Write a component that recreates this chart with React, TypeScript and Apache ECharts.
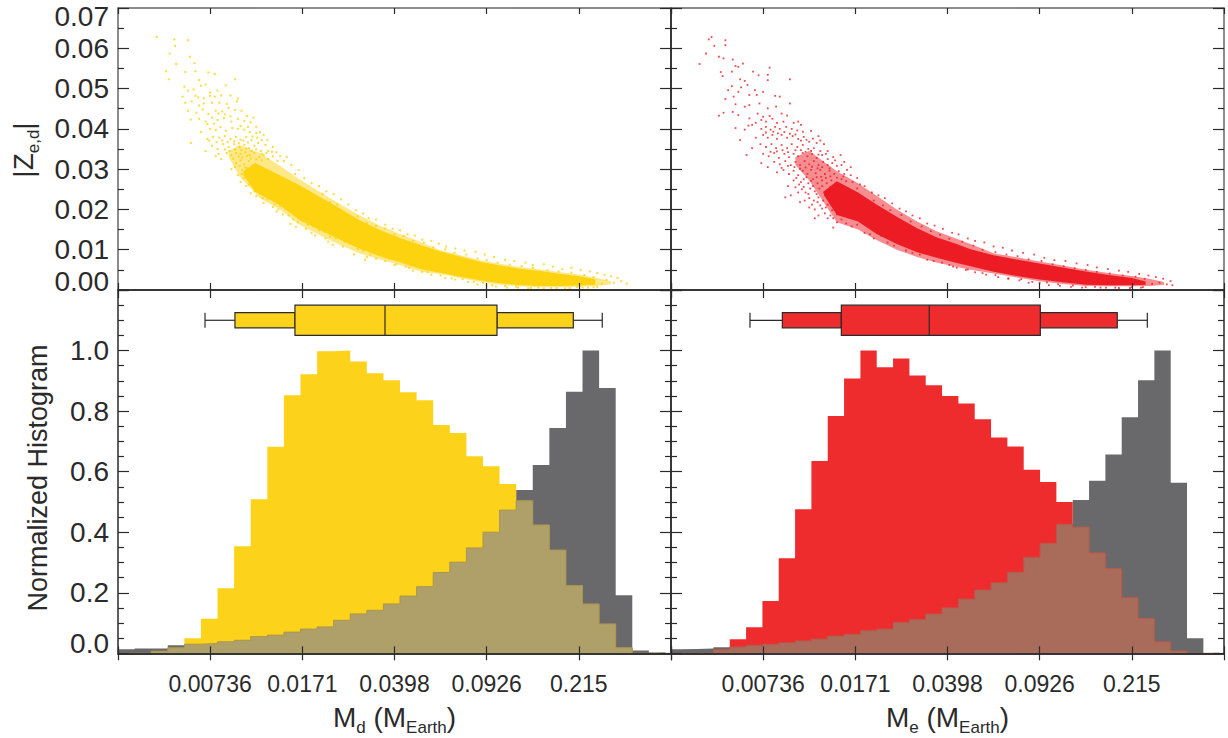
import React, { useEffect, useRef } from "react";
import * as echarts from "echarts";

// x positions are expressed on the axis' uniform tick scale: 1 = 0.00736, 2 = 0.0171, ...
const xTickLabels = ["", "0.00736", "0.0171", "0.0398", "0.0926", "0.215", ""];

const yellowBinWidth = 0.18;
const yellowBinStart = 0;
const yellowHist = [0, 0, 0.007, 0.018, 0.05, 0.114, 0.215, 0.354, 0.509, 0.682, 0.852, 0.922, 0.998, 1.0, 0.964, 0.925, 0.902, 0.862, 0.836, 0.754, 0.728, 0.651, 0.618, 0.559, 0.504, 0.424, 0.341, 0.224, 0.163, 0.097, 0.018, 0, 0];
const yellowGrey = [0.013, 0.016, 0.016, 0.027, 0.03, 0.032, 0.038, 0.043, 0.055, 0.06, 0.07, 0.08, 0.087, 0.109, 0.13, 0.142, 0.163, 0.189, 0.22, 0.267, 0.301, 0.348, 0.4, 0.473, 0.539, 0.622, 0.744, 0.864, 1.0, 0.876, 0.192, 0.009, 0.003];

const redBinWidth = 0.1772;
const redBinStart = -0.0714;
const redHist = [0, 0, 0, 0.012, 0.046, 0.086, 0.173, 0.314, 0.476, 0.635, 0.784, 0.908, 1.0, 0.945, 0.974, 0.918, 0.885, 0.85, 0.825, 0.773, 0.713, 0.683, 0.606, 0.566, 0.5, 0.417, 0.332, 0.28, 0.184, 0.115, 0.038, 0.008, 0, 0];
const redGrey = [0.013, 0.014, 0.016, 0.02, 0.021, 0.027, 0.03, 0.035, 0.041, 0.047, 0.057, 0.063, 0.075, 0.08, 0.102, 0.112, 0.13, 0.15, 0.179, 0.209, 0.233, 0.268, 0.317, 0.363, 0.426, 0.506, 0.57, 0.657, 0.78, 0.902, 1.0, 0.563, 0.05, 0];

// whiskerLow, boxOuterLow, q1, median, q3, boxOuterHigh, whiskerHigh
const yellowBox = [0.944, 1.269, 1.92, 2.897, 4.112, 4.94, 5.254];
const redBox = [0.857, 1.208, 1.848, 2.802, 4.007, 4.842, 5.168];

// dense core of each cloud: position, upper |Z|, lower |Z|
const yellowCore = [
  [1.36, 0.0295, 0.0285], [1.49, 0.0315, 0.0244], [1.76, 0.0284, 0.021], [1.97, 0.026, 0.0174], [2.19, 0.0231, 0.0149], [2.41, 0.0202, 0.0125],
  [2.63, 0.0172, 0.0102], [2.84, 0.0149, 0.0084], [3.06, 0.0129, 0.0069], [3.28, 0.0112, 0.0052], [3.49, 0.0096, 0.0043],
  [3.71, 0.0083, 0.0033], [3.93, 0.007, 0.0024], [4.14, 0.0061, 0.0017], [4.36, 0.0053, 0.0012], [4.58, 0.0047, 0.001],
  [4.8, 0.004, 0.001], [5.01, 0.0034, 0.0011], [5.18, 0.0026, 0.0013],
];
const yellowHalo = [
  [1.2, 0.0345, 0.033], [1.32, 0.036, 0.0282], [1.54, 0.034, 0.0228], [1.76, 0.0308, 0.02], [1.97, 0.0275, 0.0162], [2.19, 0.0243, 0.0136],
  [2.41, 0.0213, 0.0112], [2.63, 0.0184, 0.009], [2.84, 0.016, 0.0076], [3.06, 0.0139, 0.0062], [3.28, 0.012, 0.0046], [3.49, 0.0099, 0.004],
  [3.71, 0.0087, 0.003], [3.93, 0.0074, 0.002], [4.14, 0.0065, 0.0013], [4.36, 0.0057, 0.0009], [4.58, 0.0051, 0.0007], [4.8, 0.0044, 0.0007],
  [5.01, 0.0038, 0.0008], [5.2, 0.003, 0.001], [5.35, 0.0022, 0.0014],
];
const redCore = [
  [1.66, 0.0245, 0.0235], [1.8, 0.027, 0.0186], [2.03, 0.0242, 0.017], [2.23, 0.0212, 0.0139], [2.45, 0.0182, 0.0114], [2.67, 0.0153, 0.0094],
  [2.88, 0.0131, 0.008], [3.1, 0.0114, 0.0067], [3.25, 0.0101, 0.0059], [3.5, 0.0086, 0.0045], [3.75, 0.0076, 0.0035],
  [4.0, 0.0066, 0.0026], [4.25, 0.0056, 0.0019], [4.5, 0.0046, 0.0013], [4.75, 0.0037, 0.0012], [5.0, 0.003, 0.0012], [5.15, 0.0021, 0.0013],
];
const redHalo = [
  [1.35, 0.033, 0.031], [1.5, 0.0345, 0.0272], [1.8, 0.0295, 0.0168], [2.03, 0.0265, 0.015], [2.23, 0.0234, 0.0124], [2.45, 0.02, 0.01],
  [2.67, 0.017, 0.0082], [2.88, 0.0146, 0.0068], [3.1, 0.0127, 0.0057], [3.25, 0.0114, 0.005], [3.5, 0.0091, 0.0041], [3.75, 0.0081, 0.0031],
  [4.0, 0.0071, 0.0022], [4.25, 0.0061, 0.0015], [4.5, 0.005, 0.001], [4.75, 0.0042, 0.0009], [5.0, 0.0035, 0.0009], [5.2, 0.0027, 0.001], [5.35, 0.002, 0.0013],
];

// individual points read around the cores
const yellowPoints = [
  [0.42, 0.0628], [0.61, 0.0622], [0.62, 0.0606], [0.76, 0.062], [0.56, 0.0587], [0.78, 0.0579], [0.52, 0.0543], [0.63, 0.0561], [0.83, 0.0563], [0.55, 0.0523], [0.73, 0.0541], [0.84, 0.0543], [1.05, 0.0536], [1.27, 0.0523], [0.88, 0.0521], [0.98, 0.054], [0.72, 0.0505], [0.76, 0.0495], [0.82, 0.0498], [0.9, 0.0507], [0.95, 0.051], [1.0, 0.049], [1.08, 0.0495], [1.17, 0.0508], [0.7, 0.048], [0.84, 0.0482], [0.87, 0.0478], [0.93, 0.0476], [1.0, 0.0482], [1.05, 0.048], [1.12, 0.0483], [1.22, 0.0483], [1.3, 0.0475], [0.73, 0.0465], [0.8, 0.0468], [0.88, 0.0458], [0.93, 0.0463], [1.02, 0.0465], [1.1, 0.0465], [1.18, 0.0462], [1.29, 0.0468], [0.76, 0.0445], [0.85, 0.044], [0.92, 0.0448], [0.98, 0.0437], [1.06, 0.0445], [1.13, 0.0443], [1.2, 0.0452], [1.27, 0.0447], [1.34, 0.0445], [1.4, 0.0432],
  [0.79, 0.0423], [0.88, 0.0425], [0.95, 0.0418], [1.02, 0.0428], [1.08, 0.0422], [1.15, 0.0427], [1.22, 0.0431], [1.3, 0.0425], [1.37, 0.042], [1.44, 0.0416], [1.5, 0.0405], [0.9, 0.0392], [1.0, 0.04], [1.06, 0.0397], [1.11, 0.0405], [1.17, 0.0395], [1.24, 0.0402], [1.3, 0.04], [1.37, 0.0398], [1.43, 0.0392], [1.5, 0.039], [1.58, 0.0385], [0.79, 0.0365], [0.97, 0.0375], [1.03, 0.038], [1.1, 0.0378], [1.16, 0.0382], [1.22, 0.0375], [1.28, 0.038], [1.33, 0.0373], [1.39, 0.038], [1.45, 0.0372], [1.52, 0.0365], [1.6, 0.036], [1.68, 0.0355], [0.95, 0.0345], [1.02, 0.0358], [1.08, 0.035], [1.14, 0.0362], [1.2, 0.0355], [1.26, 0.0362], [1.32, 0.0355], [1.37, 0.036], [1.42, 0.0352], [1.48, 0.0358], [1.55, 0.0345], [1.63, 0.0345], [1.72, 0.0342], [1.83, 0.033],
  [1.06, 0.0332], [1.12, 0.0325], [1.18, 0.034], [1.23, 0.0335], [1.28, 0.034], [1.33, 0.0338], [1.38, 0.0342], [1.43, 0.0335], [1.48, 0.034], [1.53, 0.033], [1.58, 0.0335], [1.63, 0.0325], [1.68, 0.0332], [1.73, 0.032], [1.8, 0.032], [1.88, 0.031], [1.96, 0.0298], [1.23, 0.03], [1.28, 0.0315], [1.33, 0.0322], [1.37, 0.0312], [1.42, 0.032], [1.46, 0.031], [1.3, 0.0285], [1.35, 0.0298], [1.4, 0.0302], [1.45, 0.0292], [1.41, 0.0278], [1.46, 0.0272], [1.33, 0.0268], [1.39, 0.0258], [1.48, 0.0245], [1.52, 0.0262], [1.44, 0.024], [1.55, 0.0238], [1.6, 0.0245], [1.62, 0.0225], [1.66, 0.0235], [1.7, 0.0212], [1.76, 0.0208], [1.72, 0.0195], [1.82, 0.0202], [1.85, 0.0185], [1.9, 0.0175], [1.78, 0.0225], [1.95, 0.0168], [2.0, 0.0172], [2.06, 0.0162], [2.12, 0.0158], [2.1, 0.0142], [2.18, 0.0148], [2.24, 0.0145], [2.3, 0.0132], [2.36, 0.0128], [2.28, 0.012], [2.46, 0.012], [2.52, 0.0115], [2.6, 0.0102], [2.66, 0.0098], [2.74, 0.0088], [2.8, 0.0078], [2.7, 0.0082], [2.9, 0.0072], [2.95, 0.0078], [3.0, 0.0062], [3.12, 0.0058], [3.2, 0.0048], [3.3, 0.0045], [3.4, 0.0038], [3.55, 0.003], [3.66, 0.0026], [3.8, 0.002], [3.9, 0.0014], [4.0, 0.0011], [4.1, 0.0009], [4.22, 0.0006], [4.32, 0.0008], [4.45, 0.0004], [4.56, 0.0006], [4.7, 0.0005], [4.85, 0.0004], [4.98, 0.0007], [5.1, 0.0006], [5.2, 0.0008],
  [1.92, 0.0288], [2.02, 0.0278], [2.1, 0.0265], [2.18, 0.0258], [2.26, 0.0245], [2.34, 0.0238], [2.42, 0.0225], [2.5, 0.0212], [2.58, 0.0198], [2.66, 0.019], [2.72, 0.0178], [2.8, 0.0175], [2.9, 0.0162], [2.98, 0.0152], [3.06, 0.0148], [3.14, 0.0138], [3.22, 0.0135], [3.3, 0.0125], [3.4, 0.0122], [3.48, 0.0115], [3.56, 0.0108], [3.66, 0.0103], [3.76, 0.0098], [3.88, 0.0095], [3.98, 0.0088], [4.08, 0.0082], [4.2, 0.0075], [4.3, 0.0072], [4.42, 0.0068], [4.5, 0.0062], [4.62, 0.0064], [4.72, 0.0058], [4.82, 0.0052], [4.92, 0.0055], [5.02, 0.005], [5.12, 0.0046], [5.2, 0.0042], [5.28, 0.0038], [5.35, 0.0034], [5.42, 0.003], [5.3, 0.0025], [5.38, 0.0018], [5.25, 0.0016], [5.46, 0.0022], [5.52, 0.0016],
  [0.97, 0.0412], [1.04, 0.0413], [1.09, 0.0438], [1.16, 0.0436], [1.23, 0.0418], [1.33, 0.0407], [1.41, 0.0405], [1.47, 0.0428], [1.54, 0.0392], [0.99, 0.0371], [1.07, 0.0367], [1.13, 0.0371], [1.19, 0.0368], [1.26, 0.0369], [1.31, 0.0364], [1.36, 0.0371], [1.41, 0.0366], [1.46, 0.0381], [1.51, 0.0378], [1.56, 0.0372], [1.62, 0.0372], [1.09, 0.0338], [1.16, 0.0349], [1.21, 0.0345], [1.27, 0.0349], [1.34, 0.0347], [1.39, 0.0351], [1.45, 0.0345], [1.5, 0.0349], [1.56, 0.0338], [1.61, 0.034], [1.67, 0.0343], [1.76, 0.0332], [1.25, 0.0326], [1.31, 0.0331], [1.35, 0.0329], [1.4, 0.0333], [1.44, 0.0326], [1.5, 0.0324], [1.56, 0.0322], [1.27, 0.0306], [1.32, 0.0308], [1.38, 0.0304], [1.43, 0.0302], [1.34, 0.0288], [1.36, 0.0277], [1.42, 0.0262], [1.47, 0.0261], [1.5, 0.0233], [1.57, 0.0228], [1.58, 0.0216], [1.68, 0.0206], [1.74, 0.02], [1.79, 0.0188], [1.87, 0.0164], [1.93, 0.0157], [2.04, 0.0152], [2.14, 0.0135], [2.25, 0.0128], [2.33, 0.0112], [2.44, 0.0108], [2.56, 0.0088], [2.68, 0.0075],
  [2.12, 0.0236], [2.22, 0.0239], [2.3, 0.0218], [2.38, 0.0212], [2.5, 0.0186], [2.6, 0.0183], [2.7, 0.0166], [2.8, 0.0159], [2.9, 0.0153], [3.0, 0.0138], [3.1, 0.0134], [3.2, 0.0122], [3.32, 0.0118], [3.42, 0.0106], [3.55, 0.0101], [3.65, 0.0092], [3.78, 0.0088], [3.9, 0.0078], [4.0, 0.0074], [4.12, 0.0068], [4.25, 0.0063], [4.38, 0.0059], [4.5, 0.0055], [4.66, 0.0049], [4.78, 0.0046], [4.92, 0.0043], [5.06, 0.0037], [5.16, 0.0032],
  [3.02, 0.0064], [3.16, 0.0055], [3.36, 0.0044], [3.5, 0.0036], [3.62, 0.0029], [3.74, 0.0027], [3.86, 0.002], [3.96, 0.0018], [4.06, 0.0012], [4.2, 0.001], [4.34, 0.0006], [4.48, 0.0005], [4.62, 0.0004], [4.76, 0.0005], [4.9, 0.0005], [5.04, 0.0006], [5.16, 0.0007],
];
const redPoints = [
  [0.44, 0.0628], [0.41, 0.0622], [0.59, 0.062], [0.59, 0.0608], [0.38, 0.0587], [0.47, 0.0606], [0.52, 0.0579], [0.57, 0.0575], [0.31, 0.0561], [0.78, 0.0562], [0.67, 0.0572], [0.7, 0.0556], [0.73, 0.0554], [0.54, 0.0541], [0.56, 0.0531], [0.66, 0.0542], [0.89, 0.0542], [0.95, 0.0533], [1.05, 0.0534], [1.07, 0.0552], [1.29, 0.0523], [0.75, 0.0523], [0.8, 0.0519], [1.05, 0.0521], [0.66, 0.0506], [0.62, 0.0496], [0.76, 0.0503], [0.83, 0.0509], [0.91, 0.0496], [1.0, 0.0492], [0.68, 0.048], [0.73, 0.0492], [0.85, 0.0484], [0.93, 0.0484], [1.13, 0.0482], [1.18, 0.048], [1.29, 0.0463], [0.59, 0.0474], [0.7, 0.0461], [0.8, 0.0455], [0.85, 0.0459], [0.96, 0.0463], [1.05, 0.0451], [1.14, 0.0455], [0.67, 0.0442], [0.52, 0.0433], [0.57, 0.044], [0.73, 0.0434], [0.85, 0.0426], [0.94, 0.0438], [1.0, 0.043], [1.07, 0.0432], [1.2, 0.0438], [1.26, 0.0433], [1.38, 0.0418], [1.41, 0.041], [0.92, 0.0415], [0.98, 0.0422], [1.03, 0.0418], [1.1, 0.0425], [1.15, 0.0415], [1.22, 0.0418], [1.33, 0.0415], [0.7, 0.0402], [0.8, 0.0398], [0.84, 0.0408], [0.88, 0.041], [0.98, 0.04], [1.03, 0.0405], [1.08, 0.0398], [1.13, 0.0405], [1.18, 0.04], [1.25, 0.0405], [1.31, 0.04], [1.37, 0.0396], [1.43, 0.0393], [1.52, 0.0395], [1.6, 0.0382],
  [0.75, 0.0372], [0.92, 0.0378], [1.0, 0.0385], [1.05, 0.0378], [1.1, 0.0385], [1.15, 0.0375], [1.2, 0.0385], [1.26, 0.0378], [1.32, 0.0382], [1.38, 0.0375], [1.44, 0.038], [1.5, 0.0368], [1.58, 0.0365], [1.66, 0.0362], [0.88, 0.0352], [0.97, 0.0362], [1.03, 0.0355], [1.09, 0.0362], [1.14, 0.0352], [1.2, 0.036], [1.26, 0.0352], [1.31, 0.0362], [1.37, 0.0355], [1.43, 0.036], [1.49, 0.035], [1.55, 0.0352], [1.62, 0.0345], [1.7, 0.0345], [0.82, 0.0335], [1.0, 0.0338], [1.06, 0.0332], [1.12, 0.034], [1.17, 0.0328], [1.23, 0.0338], [1.28, 0.033], [1.33, 0.0338], [1.38, 0.0332], [1.43, 0.034], [1.48, 0.0332], [1.53, 0.0338], [1.58, 0.0328], [1.64, 0.0335], [1.7, 0.0325], [1.76, 0.033], [1.84, 0.0335], [0.98, 0.0315], [1.05, 0.0305], [1.12, 0.0318], [1.18, 0.0312], [1.24, 0.032], [1.3, 0.031], [1.35, 0.0318], [1.4, 0.031], [1.45, 0.032], [1.5, 0.0312], [1.55, 0.032], [1.6, 0.031], [1.65, 0.0318], [1.7, 0.031], [1.75, 0.0315], [1.8, 0.0308], [1.88, 0.0318], [1.95, 0.0305],
  [1.15, 0.0292], [1.22, 0.0298], [1.28, 0.0288], [1.33, 0.0296], [1.38, 0.0285], [1.43, 0.0296], [1.48, 0.0288], [1.52, 0.0298], [1.57, 0.029], [1.62, 0.0298], [1.67, 0.0288], [1.72, 0.0296], [1.77, 0.0288], [1.82, 0.0295], [1.88, 0.0288], [1.95, 0.0285], [2.02, 0.0278], [1.27, 0.0258], [1.33, 0.0272], [1.39, 0.0262], [1.44, 0.0275], [1.49, 0.0265], [1.54, 0.0275], [1.59, 0.0265], [1.64, 0.0272], [1.69, 0.0265], [1.74, 0.0272], [1.78, 0.0264], [1.85, 0.0275], [1.9, 0.027], [1.97, 0.0268], [2.05, 0.0262], [1.24, 0.023], [1.3, 0.0235], [1.42, 0.025], [1.46, 0.0242], [1.51, 0.0252], [1.56, 0.0245], [1.61, 0.0252], [1.66, 0.0242], [1.71, 0.025], [1.76, 0.0242], [1.4, 0.0218], [1.45, 0.0222], [1.5, 0.0228], [1.55, 0.0222], [1.6, 0.023], [1.65, 0.0222], [1.7, 0.023], [1.75, 0.0222], [1.5, 0.0205], [1.56, 0.02], [1.62, 0.021], [1.68, 0.0205], [1.74, 0.021], [1.78, 0.0202], [1.56, 0.0178], [1.6, 0.0185], [1.67, 0.019], [1.73, 0.0185], [1.8, 0.0188], [1.85, 0.0175], [1.76, 0.0155], [1.8, 0.0168], [1.9, 0.0165], [1.96, 0.0158], [2.02, 0.0162], [2.1, 0.0142], [2.16, 0.0138], [2.2, 0.0128], [2.28, 0.0135], [2.35, 0.0118], [2.42, 0.011], [2.48, 0.0118], [2.55, 0.0098], [2.62, 0.0092], [2.7, 0.0088], [2.78, 0.0075], [2.85, 0.0072], [2.94, 0.0068], [3.02, 0.0062], [3.1, 0.0055], [3.2, 0.005], [3.3, 0.0044], [3.42, 0.0038], [3.55, 0.0032], [3.66, 0.0028], [3.78, 0.0024], [3.88, 0.0018], [4.0, 0.0018], [4.1, 0.0012], [4.22, 0.001], [4.34, 0.0008], [4.46, 0.0006], [4.6, 0.0008], [4.72, 0.0006], [4.86, 0.0005], [5.0, 0.0007], [5.1, 0.0006],
  [2.02, 0.0252], [2.1, 0.0258], [2.18, 0.0242], [2.25, 0.0235], [2.32, 0.0228], [2.4, 0.0215], [2.48, 0.0202], [2.55, 0.0195], [2.62, 0.0185], [2.7, 0.0178], [2.78, 0.0165], [2.86, 0.016], [2.95, 0.0152], [3.05, 0.0142], [3.12, 0.0138], [3.22, 0.0128], [3.3, 0.0122], [3.4, 0.0118], [3.5, 0.0108], [3.6, 0.0105], [3.7, 0.0098], [3.82, 0.0092], [3.94, 0.0088], [4.05, 0.008], [4.16, 0.0074], [4.28, 0.0072], [4.4, 0.0066], [4.52, 0.0062], [4.62, 0.0056], [4.74, 0.0052], [4.86, 0.0048], [4.96, 0.0045], [5.08, 0.004], [5.18, 0.0036], [5.26, 0.0032], [5.34, 0.0028], [5.42, 0.0022], [5.3, 0.0018], [5.22, 0.0015], [5.38, 0.0014], [5.44, 0.0012],
  [1.03, 0.0391], [1.11, 0.0393], [1.16, 0.0389], [1.23, 0.0392], [1.29, 0.0388], [1.35, 0.0386], [1.41, 0.0371], [1.47, 0.0373], [1.54, 0.0376], [1.62, 0.0371], [1.08, 0.0343], [1.15, 0.0344], [1.21, 0.0347], [1.27, 0.0342], [1.35, 0.0347], [1.41, 0.0347], [1.46, 0.0343], [1.52, 0.0345], [1.6, 0.0336], [1.68, 0.0338], [1.78, 0.0322], [1.85, 0.031], [1.91, 0.0298], [1.2, 0.0303], [1.27, 0.0308], [1.34, 0.0305], [1.4, 0.0301], [1.46, 0.0304], [1.53, 0.0306], [1.59, 0.0302], [1.64, 0.0305], [1.72, 0.0302], [1.8, 0.0279], [1.87, 0.0282], [1.36, 0.0278], [1.41, 0.0268], [1.47, 0.028], [1.52, 0.0271], [1.58, 0.028], [1.63, 0.0281], [1.68, 0.0278], [1.73, 0.0282], [1.35, 0.0255], [1.38, 0.0242], [1.44, 0.0256], [1.49, 0.0238], [1.54, 0.0258], [1.58, 0.0238], [1.64, 0.0258], [1.69, 0.0236], [1.73, 0.0256], [1.53, 0.0212], [1.59, 0.0218], [1.64, 0.0202], [1.7, 0.0212], [1.75, 0.0198], [1.7, 0.0178], [1.76, 0.0178],
  [2.2, 0.0222], [2.3, 0.021], [2.38, 0.0198], [2.5, 0.0186], [2.6, 0.017], [2.72, 0.0158], [2.82, 0.0146], [2.92, 0.0137], [3.02, 0.0127], [3.16, 0.012], [3.28, 0.011], [3.38, 0.01], [3.52, 0.0094], [3.64, 0.0088], [3.76, 0.0084], [3.88, 0.0076], [4.02, 0.0072], [4.14, 0.0064], [4.26, 0.0059], [4.38, 0.0054], [4.5, 0.005], [4.62, 0.0045], [4.76, 0.0041], [4.9, 0.0036], [5.04, 0.0033], [5.14, 0.0028],
  [3.06, 0.0058], [3.22, 0.0051], [3.38, 0.0042], [3.52, 0.0037], [3.66, 0.0029], [3.8, 0.0027], [3.92, 0.002], [4.08, 0.0019], [4.2, 0.0014], [4.36, 0.0011], [4.5, 0.0007], [4.66, 0.0006], [4.82, 0.0006], [4.98, 0.0005], [5.12, 0.0007],
];

const FONT = "Liberation Sans";
const INK = "#2b2a2b";
const SOFT = "#666667";
const YELLOW = "#fdd21b";
const RED = "#ee2c2e";
const GREY = "#69696b";
const OLIVE = "#afa06a";
const BROWN = "#a96c5a";

const PANEL_X = [118, 671];
const PANEL_W = 553;

function xAxis(gridIndex: number, position: string, length: number, inside: boolean, labels: boolean, spine = INK) {
  return {
    type: "value", gridIndex, position, min: 0, max: 6, interval: 1, z: 6,
    axisLine: { show: true, onZero: false, lineStyle: { color: spine, width: 1.5 } },
    axisTick: { show: true, inside, length, lineStyle: { color: INK, width: 1.2 } },
    splitLine: { show: false },
    axisLabel: labels
      ? { show: true, margin: 19, fontFamily: FONT, fontSize: 23, color: INK, showMinLabel: true, showMaxLabel: true, formatter: (v: number) => xTickLabels[v] ?? "" }
      : { show: false },
  };
}

function yAxis(gridIndex: number, position: string, max: number, interval: number, minors: number, labels: any, spine = INK) {
  return {
    type: "value", gridIndex, position, min: 0, max, interval, z: 6,
    axisLine: { show: true, onZero: false, lineStyle: { color: spine, width: 1.5 } },
    axisTick: { show: true, inside: true, length: 11, lineStyle: { color: INK, width: 1.2 } },
    minorTick: { show: true, splitNumber: minors, length: 6, lineStyle: { color: INK, width: 1.2 } },
    splitLine: { show: false },
    minorSplitLine: { show: false },
    axisLabel: labels || { show: false },
  };
}

function stepData(values: number[], start: number, width: number) {
  const pts = values.map((v, i) => [start + i * width, v]);
  pts.push([start + values.length * width, 0]);
  return pts;
}

function histSeries(values: number[], start: number, width: number, fill: string, edge: string, xi: number, yi: number, z: number) {
  return {
    type: "line", step: "end", xAxisIndex: xi, yAxisIndex: yi, z, symbol: "none", silent: true,
    data: stepData(values, start, width),
    lineStyle: { color: edge, width: edge === fill ? 0 : 1 },
    areaStyle: { color: fill, opacity: 1, origin: "start" },
  };
}

function bandSeries(band: number[][], color: string, opacity: number, xi: number, yi: number, z: number) {
  return {
    type: "custom", xAxisIndex: xi, yAxisIndex: yi, z, silent: true, clip: false,
    data: [[band[0][0], band[0][1]]],
    renderItem: (_: any, api: any) => {
      const up = band.map((c) => api.coord([c[0], c[1]]));
      const down = band.map((c) => api.coord([c[0], c[2]])).reverse();
      return { type: "polygon", shape: { points: up.concat(down) }, style: { fill: color, stroke: "none", opacity } };
    },
  };
}

function cloudSeries(core: number[][], halo: number[][], points: number[][], color: string, size: number, xi: number, yi: number) {
  return [
    bandSeries(halo, color, 0.5, xi, yi, 2),
    bandSeries(core, color, 1, xi, yi, 3),
    {
      type: "scatter", xAxisIndex: xi, yAxisIndex: yi, z: 4, silent: true, large: false,
      symbol: "rect", symbolSize: size,
      itemStyle: { color },
      data: points,
    },
  ];
}

function boxSeries(box: number[], fill: string, xi: number, yi: number) {
  return {
    type: "custom", xAxisIndex: xi, yAxisIndex: yi, z: 5, silent: true, clip: false,
    data: [[box[3], 1.1]],
    renderItem: (_: any, api: any) => {
      const p = (x: number, y: number) => api.coord([x, y]);
      const rect = (x0: number, x1: number, y0: number, y1: number) => {
        const a = p(x0, y1);
        const b = p(x1, y0);
        return { type: "rect", shape: { x: a[0], y: a[1], width: b[0] - a[0], height: b[1] - a[1] }, style: { fill, stroke: "#2b2a2b", lineWidth: 1.2 } };
      };
      const line = (x0: number, y0: number, x1: number, y1: number) => {
        const a = p(x0, y0);
        const b = p(x1, y1);
        return { type: "line", shape: { x1: a[0], y1: a[1], x2: b[0], y2: b[1] }, style: { stroke: "#2b2a2b", lineWidth: 1.2 } };
      };
      return {
        type: "group",
        children: [
          line(box[0], 1.1, box[1], 1.1),
          line(box[5], 1.1, box[6], 1.1),
          line(box[0], 1.075, box[0], 1.125),
          line(box[6], 1.075, box[6], 1.125),
          rect(box[1], box[2], 1.075, 1.125),
          rect(box[4], box[5], 1.075, 1.125),
          rect(box[2], box[4], 1.05, 1.15),
          line(box[3], 1.05, box[3], 1.15),
        ],
      };
    },
  };
}

function overlap(a: number[], b: number[]) {
  return a.map((v, i) => Math.min(v, b[i]));
}

export default function App() {
  const ref = useRef<HTMLDivElement>(null);
  useEffect(() => {
    const chart = echarts.init(ref.current!, null, { renderer: "svg" });
    const labelStyle = { fontFamily: FONT, fontSize: 28, color: INK };
    const topLabels = {
      show: true, margin: 9, ...labelStyle, showMinLabel: true, showMaxLabel: true,
      formatter: (v: number) => {
        const s = v.toFixed(2);
        if (s === "0.07") return `{t|${s}}`;
        if (s === "0.00") return `{b|${s}}`;
        return s;
      },
      rich: { t: { ...labelStyle, padding: [16, 0, 0, 0] }, b: { ...labelStyle, padding: [0, 0, 18, 0] } },
    };
    const bottomLabels = {
      show: true, margin: 9, ...labelStyle, showMinLabel: true, showMaxLabel: true,
      formatter: (v: number) => {
        const s = v.toFixed(1);
        if (s === "1.2") return "";
        if (s === "0.0") return `{b|${s}}`;
        return s;
      },
      rich: { b: { ...labelStyle, padding: [0, 0, 20, 0] } },
    };
    const grids = [
      { left: PANEL_X[0], top: 8, width: PANEL_W, height: 282 },
      { left: PANEL_X[1], top: 8, width: PANEL_W, height: 282 },
      { left: PANEL_X[0], top: 290, width: PANEL_W, height: 363.3 },
      { left: PANEL_X[1], top: 290, width: PANEL_W, height: 363.3 },
    ];
    const xAxes = [
      xAxis(0, "bottom", 7, true, false), xAxis(0, "top", 6, true, false, SOFT),
      xAxis(1, "bottom", 7, true, false), xAxis(1, "top", 6, true, false, SOFT),
      xAxis(2, "bottom", 7, false, true), xAxis(2, "bottom", 7, true, false), xAxis(2, "top", 8, true, false),
      xAxis(3, "bottom", 7, false, true), xAxis(3, "bottom", 7, true, false), xAxis(3, "top", 8, true, false),
    ];
    const yAxes = [
      yAxis(0, "left", 0.07, 0.01, 2, topLabels, SOFT), yAxis(0, "right", 0.07, 0.01, 2, null),
      yAxis(1, "left", 0.07, 0.01, 2, null), yAxis(1, "right", 0.07, 0.01, 2, null, SOFT),
      yAxis(2, "left", 1.2, 0.2, 4, bottomLabels), yAxis(2, "right", 1.2, 0.2, 4, null),
      yAxis(3, "left", 1.2, 0.2, 4, null), yAxis(3, "right", 1.2, 0.2, 4, null),
    ];
    const titleRich = (size: number, sub: number, lh: number) => ({
      n: { fontFamily: FONT, fontSize: size, color: INK, lineHeight: lh },
      s: { fontFamily: FONT, fontSize: sub, color: INK, lineHeight: lh, verticalAlign: "bottom" },
    });
    const title = (text: string, x: number, y: number, rotation: number) => ({
      type: "text", x, y, rotation, z: 10, silent: true,
      style: { text, rich: titleRich(28, 17, 38), align: "center", verticalAlign: "middle", fontFamily: FONT, fontSize: 28, fill: INK },
    });
    chart.setOption({
      animation: false,
      backgroundColor: "#ffffff",
      grid: grids,
      xAxis: xAxes,
      yAxis: yAxes,
      graphic: [
        title("{n|M}{s|d}{n| (M}{s|Earth}{n|)}", 394.5, 717, 0),
        title("{n|M}{s|e}{n| (M}{s|Earth}{n|)}", 947.5, 717, 0),
        title("{n|\u007CZ}{s|e,d}{n|\u007C}", 23, 150, Math.PI / 2),
        { type: "text", x: 38, y: 478, rotation: Math.PI / 2, z: 10, silent: true, style: { text: "Normalized Histogram", align: "center", verticalAlign: "middle", fontFamily: FONT, fontSize: 27, fill: INK } },
      ],
      series: [
        ...cloudSeries(yellowCore, yellowHalo, yellowPoints, "#fdd20f", 2, 0, 0),
        ...cloudSeries(redCore, redHalo, redPoints, "#ed1c24", 1.8, 2, 2),
        histSeries(yellowGrey, yellowBinStart, yellowBinWidth, GREY, GREY, 4, 4, 2),
        histSeries(yellowHist, yellowBinStart, yellowBinWidth, YELLOW, YELLOW, 4, 4, 3),
        histSeries(overlap(yellowHist, yellowGrey), yellowBinStart, yellowBinWidth, OLIVE, "#a8954f", 4, 4, 4),
        boxSeries(yellowBox, YELLOW, 4, 4),
        histSeries(redGrey, redBinStart, redBinWidth, GREY, GREY, 7, 6, 2),
        histSeries(redHist, redBinStart, redBinWidth, RED, RED, 7, 6, 3),
        histSeries(overlap(redHist, redGrey), redBinStart, redBinWidth, BROWN, "#b45a4c", 7, 6, 4),
        boxSeries(redBox, RED, 7, 6),
      ],
    });
    return () => chart.dispose();
  }, []);
  return <div ref={ref} style={{ position: "fixed", left: 0, top: 0, width: 1228, height: 738, background: "#fff" }} />;
}
